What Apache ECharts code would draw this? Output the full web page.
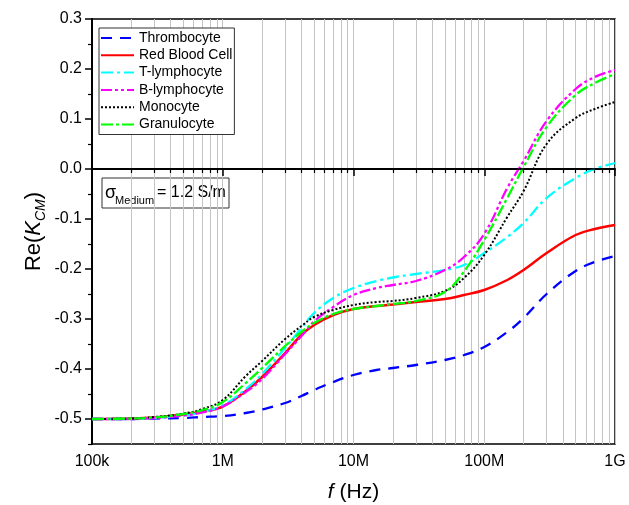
<!DOCTYPE html>
<html>
<head>
<meta charset="utf-8">
<script src="https://cdn.jsdelivr.net/npm/echarts@6/dist/echarts.min.js"></script>
<style>
  html, body { margin: 0; padding: 0; background: #fff; }
  #chart { width: 629px; height: 505px; }
</style>
</head>
<body>
<div id="chart"></div>
<script>
  // frequencies (Hz) the curves were read at
  var freq = [1e5, 2e5, 3e5, 5e5, 7e5, 1e6, 1.5e6, 2e6, 3e6, 4e6, 5e6, 7e6, 1e7, 1.5e7, 2e7, 3e7, 5e7, 7e7,
              1e8, 1.5e8, 2e8, 3e8, 5e8, 7e8, 1e9];

  var thrombocyte = [-0.500, -0.500, -0.499, -0.498, -0.496, -0.494, -0.488, -0.481, -0.468, -0.454, -0.442, -0.426,
                     -0.412, -0.402, -0.398, -0.392, -0.382, -0.372, -0.356, -0.326, -0.298, -0.250, -0.204, -0.186, -0.174];
  var redBloodCell = [-0.500, -0.499, -0.497, -0.491, -0.485, -0.475, -0.444, -0.416, -0.368, -0.332, -0.312, -0.292,
                      -0.280, -0.274, -0.271, -0.266, -0.260, -0.252, -0.242, -0.222, -0.202, -0.168, -0.132, -0.120, -0.112];
  var tLymphocyte = [-0.500, -0.500, -0.498, -0.493, -0.486, -0.473, -0.440, -0.410, -0.358, -0.318, -0.288, -0.258,
                     -0.238, -0.224, -0.217, -0.210, -0.202, -0.192, -0.168, -0.136, -0.108, -0.058, -0.018, 0.000, 0.012];
  var bLymphocyte = [-0.500, -0.500, -0.498, -0.493, -0.487, -0.475, -0.446, -0.420, -0.370, -0.334, -0.305, -0.276,
                     -0.252, -0.238, -0.232, -0.224, -0.202, -0.176, -0.130, -0.038, 0.016, 0.096, 0.160, 0.184, 0.198];
  var monocyte = [-0.500, -0.499, -0.496, -0.489, -0.480, -0.462, -0.414, -0.384, -0.340, -0.314, -0.296, -0.282,
                  -0.272, -0.266, -0.264, -0.258, -0.244, -0.218, -0.172, -0.096, -0.044, 0.050, 0.102, 0.120, 0.134];
  var granulocyte = [-0.500, -0.499, -0.497, -0.490, -0.482, -0.466, -0.428, -0.398, -0.354, -0.326, -0.308, -0.290,
                     -0.280, -0.274, -0.270, -0.264, -0.246, -0.205, -0.142, -0.058, 0.004, 0.084, 0.148, 0.172, 0.190];

  var xTickValues = [1e5, 1e6, 1e7, 1e8, 1e9];
  var xTickLabels = ['100k', '1M', '10M', '100M', '1G'];
  var yTicks = [-0.5, -0.4, -0.3, -0.2, -0.1, 0, 0.1, 0.2, 0.3];
  var yMinorTicks = [-0.55, -0.45, -0.35, -0.25, -0.15, -0.05, 0.05, 0.15, 0.25];

  var font = "'Liberation Sans', Arial, sans-serif";

  function curve(name, values, color, dash, width) {
    return {
      name: name,
      type: 'line',
      data: freq.map(function (f, i) { return [f, values[i]]; }),
      symbol: 'none',
      smooth: 0.4,
      itemStyle: { color: color },
      lineStyle: { color: color, width: width, type: dash }
    };
  }

  var series = [
    curve('Thrombocyte', thrombocyte, '#0000ff', [11, 8], 2.3),
    curve('Red Blood Cell', redBloodCell, '#ff0000', 'solid', 2.5),
    curve('T-lymphocyte', tLymphocyte, '#00ffff', [12, 4, 3, 4], 2.3),
    curve('B-lymphocyte', bLymphocyte, '#ff00ff', [11, 3, 3, 3, 3, 3], 2.3),
    curve('Monocyte', monocyte, '#000000', [2, 2], 2),
    curve('Granulocyte', granulocyte, '#00ff00', [12, 3, 3, 3], 2.3)
  ];
  // the Re(K) = 0 line
  series[0].markLine = {
    silent: true,
    symbol: 'none',
    label: { show: false },
    lineStyle: { color: '#000', width: 1.5, type: 'solid' },
    data: [{ yAxis: 0 }]
  };

  var myChart = echarts.init(document.getElementById('chart'));
  myChart.setOption({
    animation: false,
    textStyle: { fontFamily: font },
    grid: {
      left: 92, right: 14, top: 19, bottom: 61,
      show: true, borderColor: '#000', borderWidth: 1.5,
      outerBoundsMode: 'none'
    },
    legend: {
      orient: 'vertical',
      left: 99, top: 28,
      padding: [3, 2, 3, 1],
      itemWidth: 33, itemHeight: 14, itemGap: 3.3,
      backgroundColor: '#fff',
      borderColor: '#333', borderWidth: 1,
      itemStyle: { opacity: 0 },
      textStyle: { fontSize: 14, color: '#000', fontFamily: font }
    },
    xAxis: {
      type: 'log',
      logBase: 10,
      min: 1e5, max: 1e9,
      name: '{i|f} (Hz)',
      nameLocation: 'middle',
      nameGap: 38,
      nameTextStyle: {
        fontSize: 21, color: '#000', fontFamily: font,
        rich: { i: { fontSize: 21, fontStyle: 'italic', fontFamily: font } }
      },
      axisLine: { lineStyle: { color: '#000', width: 2 } },
      axisTick: { length: 7, lineStyle: { color: '#000', width: 1.5 } },
      minorTick: { show: true, splitNumber: 9, length: 4, lineStyle: { color: '#000', width: 1.2 } },
      splitLine: { show: true, lineStyle: { color: '#c4c4c4', width: 1 } },
      minorSplitLine: { show: true, lineStyle: { color: '#c4c4c4', width: 1 } },
      axisLabel: {
        margin: 10, fontSize: 16, color: '#000', fontFamily: font,
        formatter: function (v) {
          var k = Math.round(Math.log10(v));
          var idx = xTickValues.indexOf(Math.pow(10, k));
          return idx >= 0 ? xTickLabels[idx] : '';
        }
      }
    },
    yAxis: [
      {
        type: 'value',
        min: -0.55, max: 0.3,
        name: '{a|Re(}{k|K}{s|CM}{a|)}',
        nameLocation: 'middle',
        nameGap: 44,
        nameMoveOverlap: false,
        nameTextStyle: {
          color: '#000', fontFamily: font,
          rich: {
            a: { fontSize: 22, lineHeight: 28, fontFamily: font, verticalAlign: 'middle' },
            k: { fontSize: 22, lineHeight: 28, fontStyle: 'italic', fontFamily: font, verticalAlign: 'middle' },
            s: { fontSize: 14, lineHeight: 14, fontStyle: 'italic', fontFamily: font, verticalAlign: 'bottom' }
          }
        },
        axisLine: { show: true, lineStyle: { color: '#000', width: 2 } },
        axisTick: { show: true, length: 7, customValues: yTicks, lineStyle: { color: '#000', width: 1.5 } },
        splitLine: { show: false },
        axisLabel: {
          margin: 10, fontSize: 16, color: '#000', fontFamily: font,
          customValues: yTicks,
          formatter: function (v) { return v.toFixed(1); }
        }
      },
      {
        type: 'value',
        min: -0.55, max: 0.3,
        position: 'left',
        axisLine: { show: false },
        axisTick: { show: true, length: 4, customValues: yMinorTicks, lineStyle: { color: '#000', width: 1.2 } },
        axisLabel: { show: false },
        splitLine: { show: false }
      }
    ],
    graphic: [
      {
        type: 'group', z: 100,
        children: [
          { type: 'rect', shape: { x: 102, y: 178, width: 127, height: 30 },
            style: { fill: '#fff', stroke: '#333', lineWidth: 1 } },
          { type: 'text', x: 105, y: 184,
            style: { text: 'σ', font: '18px ' + font, fill: '#000' } },
          { type: 'text', x: 115, y: 195,
            style: { text: 'Medium', font: '11px ' + font, fill: '#000' } },
          { type: 'text', x: 157, y: 185,
            style: { text: '= 1.2 S/m', font: '16px ' + font, fill: '#000' } }
        ]
      }
    ],
    series: series
  });
</script>
</body>
</html>
